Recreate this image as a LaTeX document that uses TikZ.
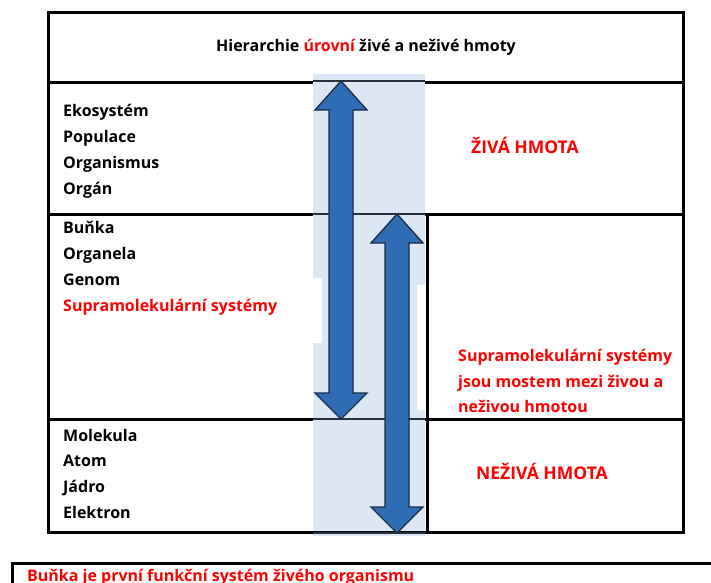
\documentclass[tikz,border=0pt]{standalone}
\usepackage{fontspec}
\setmainfont{Open Sans}[BoldFont={* Bold}]
\definecolor{txtred}{HTML}{FF0000}
\definecolor{colblue}{HTML}{DCE6F4}
\definecolor{arrfill}{HTML}{2F6EB5}
\definecolor{arrline}{HTML}{1C2A45}
\definecolor{gridline}{HTML}{2A3240}
\tikzset{
  lbl/.style={anchor=west, inner sep=0pt, text height=11pt, text depth=0pt, font=\bfseries\fontsize{16}{19}\selectfont},
  redlbl/.style={lbl, text=txtred},
  caplbl/.style={redlbl, font=\bfseries\fontsize{17.5}{20}\selectfont},
  border/.style={line width=3pt, black},
  thinline/.style={line width=2pt, gridline},
  dblarrow/.style={fill=arrfill, draw=arrline, line width=1.3pt, line join=miter}
}
\newcommand{\dblarr}[3]{% center x, top y, bottom y
  \path[dblarrow] (#1,#2) -- (#1+26,#2+29) -- (#1+12,#2+29) -- (#1+12,#3-26)
    -- (#1+26,#3-26) -- (#1,#3) -- (#1-26,#3-26) -- (#1-12,#3-26)
    -- (#1-12,#2+29) -- (#1-26,#2+29) -- cycle;}
\begin{document}
\begin{tikzpicture}[x=1pt,y=-1pt]
\useasboundingbox (0,0) rectangle (711,582);
\fill[white] (0,0) rectangle (711,582);
% light blue column
\fill[colblue] (313,74) rectangle (425,536);
\fill[white] (313,278) rectangle (322,343);
\fill[white] (417,285) rectangle (425,410);
% table borders
\draw[border] (48,12) rectangle (683,532);
\draw[border] (48,82) -- (313,82);
\draw[border] (425,82) -- (683,82);
\draw[thinline] (313,81) -- (425,81);
\draw[border] (48,214) -- (313,214);
\draw[border] (425,214) -- (683,214);
\draw[thinline] (313,214) -- (425,214);
\draw[border] (48,419) -- (313,419);
\draw[border] (425,419) -- (683,419);
\draw[thinline] (313,419) -- (425,419);
\draw[thinline] (313,533) -- (425,533);
\draw[border] (427,214) -- (427,532);
% arrows
\dblarr{341}{81}{419}
\dblarr{397}{214}{533}
% texts
\node[lbl, anchor=center] (title) at (366,46) {Hierarchie \textcolor{txtred}{úrovní} živé a neživé hmoty};
\node[lbl] (eko) at (63,111) {Ekosystém};
\node[lbl] (pop) at (63,137) {Populace};
\node[lbl] (org) at (63,163) {Organismus};
\node[lbl] (orgn) at (63,189) {Orgán};
\node[lbl] (bun) at (63,228) {Buňka};
\node[lbl] (orgl) at (63,254) {Organela};
\node[lbl] (gen) at (63,280) {Genom};
\node[redlbl] (sup) at (63,306) {Supramolekulární systémy};
\node[lbl] (mol) at (63,436) {Molekula};
\node[lbl] (atom) at (63,461) {Atom};
\node[lbl] (jad) at (63,487) {Jádro};
\node[lbl] (ele) at (63,513) {Elektron};
\node[caplbl] (ziva) at (471,148) {ŽIVÁ HMOTA};
\node[redlbl] (most1) at (458,356) {Supramolekulární systémy};
\node[redlbl] (most2) at (458,382) {jsou mostem mezi živou a};
\node[redlbl] (most3) at (458,407) {neživou hmotou};
\node[caplbl] (neziva) at (476,474) {NEŽIVÁ HMOTA};
% bottom box
\draw[border] (12,600) -- (12,563) -- (720,563);
\node[redlbl] (bunka) at (27,576) {Buňka je první funkční systém živého organismu};
\end{tikzpicture}
\end{document}
